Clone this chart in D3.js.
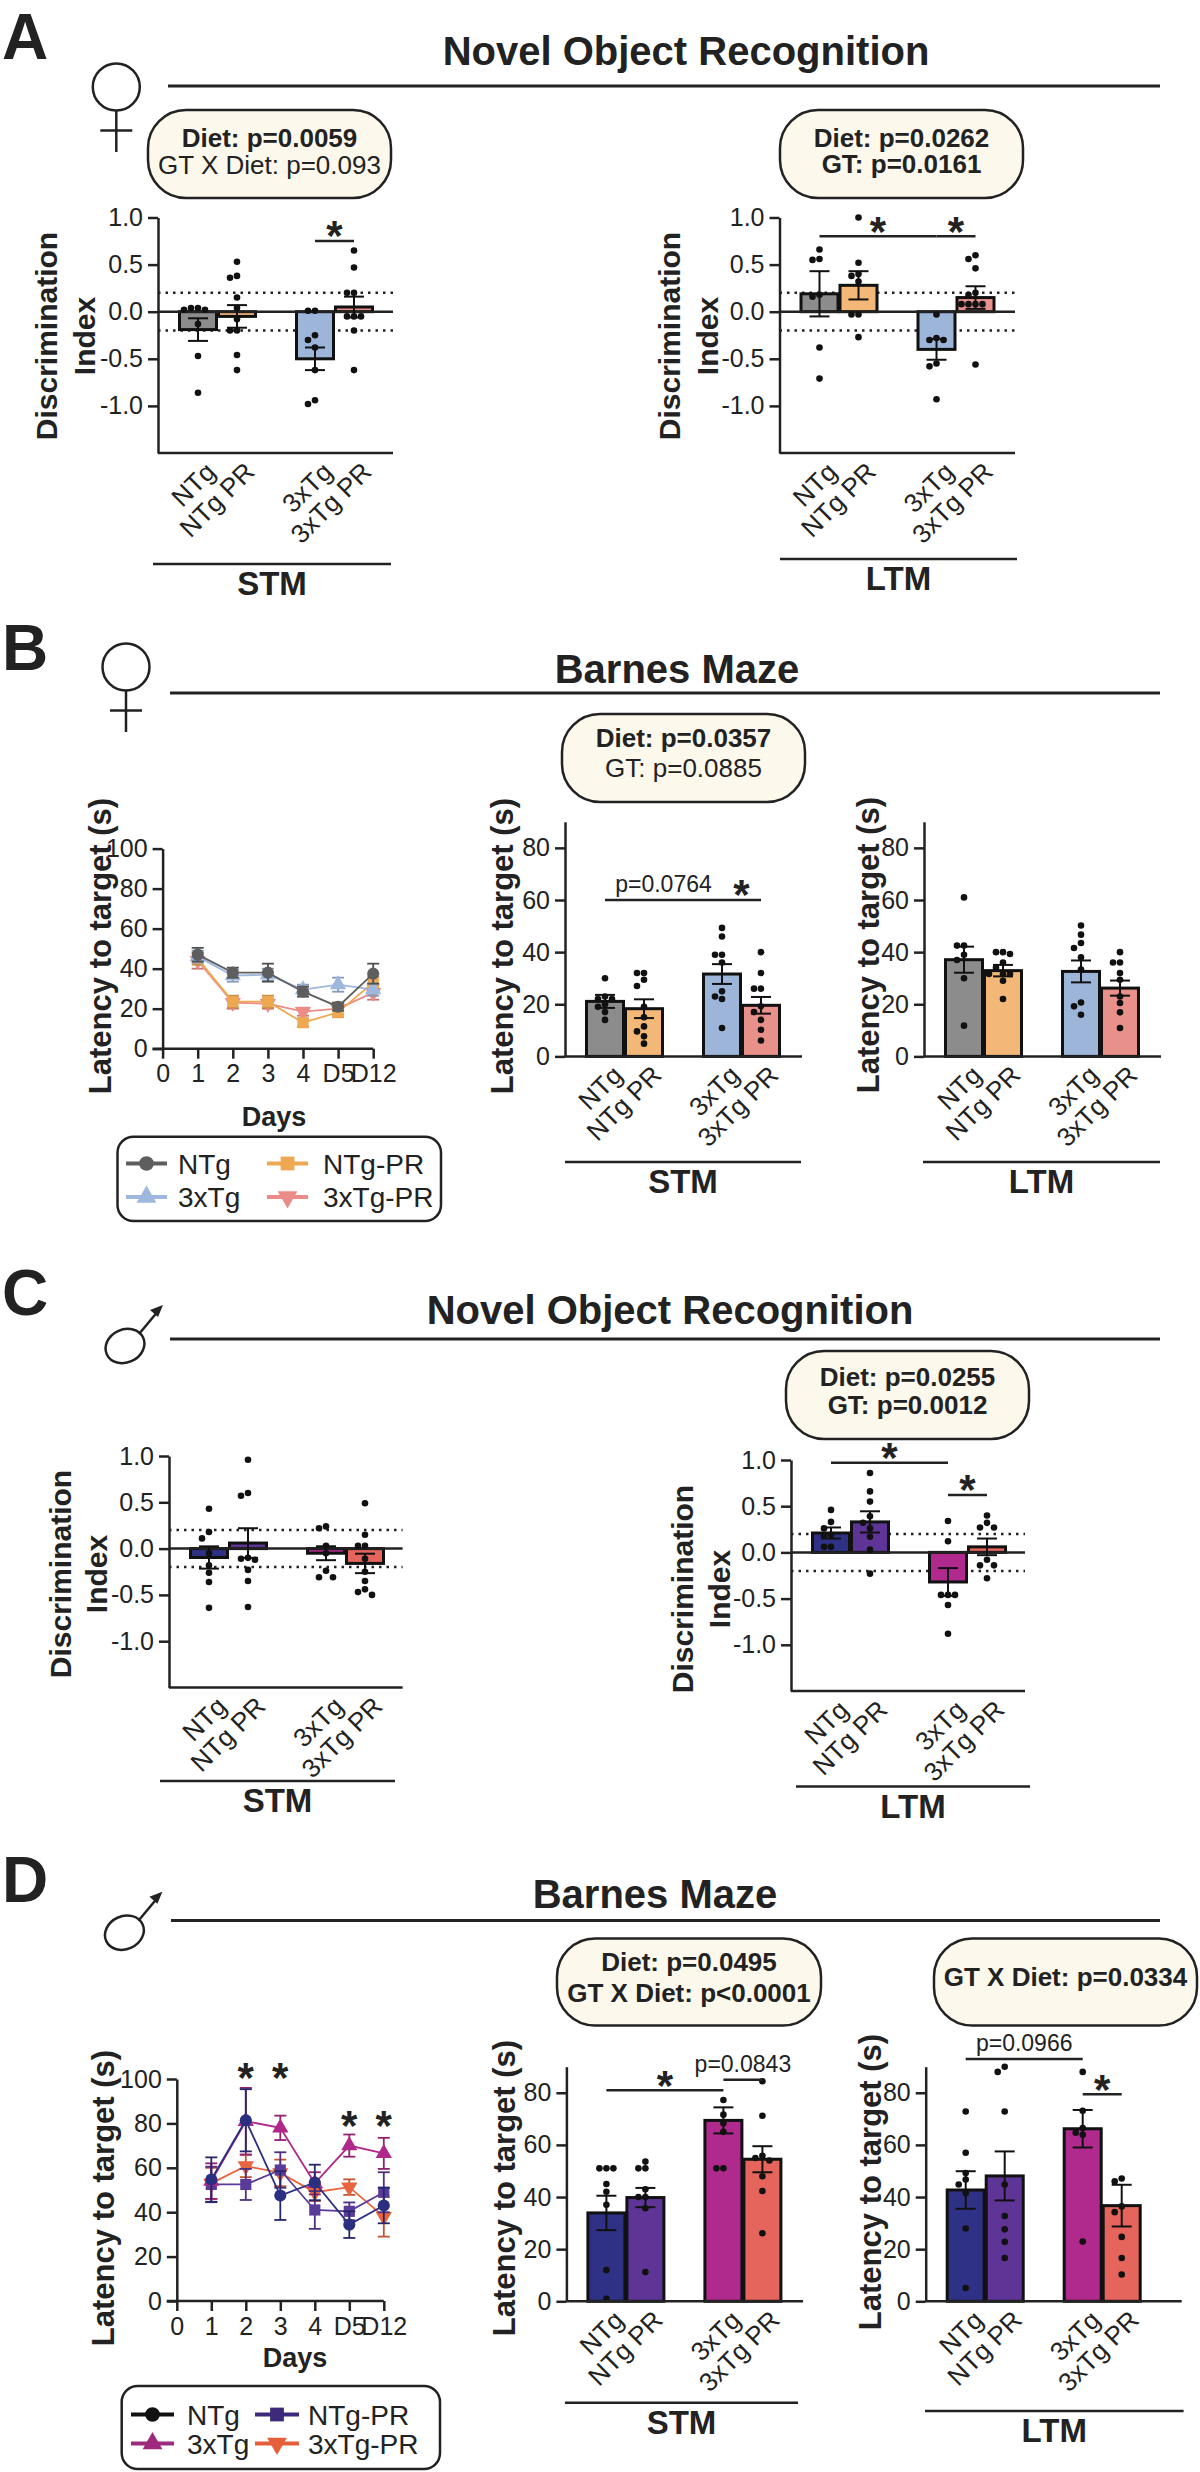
<!DOCTYPE html>
<html>
<head>
<meta charset="utf-8">
<title>Diet, novel object recognition and Barnes maze</title>
<script src="https://d3js.org/d3.v7.min.js"></script>
<style>
  body { margin: 0; background: #fff; }
  svg { display: block; font-family: "Liberation Sans", Arial, sans-serif; }
  .tick text { font-size: 25px; fill: #222; }
  .xlab .tick text { font-size: 26px; }
  .tick line { stroke: #222; stroke-width: 2.5px; }
  .domain { stroke: #222; stroke-width: 2.5px; }
</style>
</head>
<body>
<svg width="1200" height="2472"></svg>
<script>
// ---------- data ----------
const groups = ["NTg", "NTg PR", "3xTg", "3xTg PR"];
const days = ["0", "1", "2", "3", "4", "D5", "D12"];
const series = ["NTg", "3xTg", "NTg-PR", "3xTg-PR"];

// A - female, novel object recognition (discrimination index)
const aStmMean = [-0.19, -0.05, -0.5, 0.05];
const aStmSem = [0.12, 0.12, 0.12, 0.11];
const aStmPts = [
  [0.04, 0.02, 0.02, 0.04, -0.13, -0.47, -0.86],
  [0.53, 0.38, 0.36, 0.15, 0.04, -0.08, -0.2, -0.2, -0.46, -0.62],
  [0.01, 0.01, -0.25, -0.3, -0.38, -0.62, -0.94, -0.98],
  [0.65, 0.47, 0.2, 0.2, -0.05, -0.05, -0.05, -0.2, -0.62]
];
const aStmSig = [["3xTg", "3xTg PR", 0.75, "*"]];

const aLtmMean = [0.19, 0.28, -0.4, 0.15];
const aLtmSem = [0.24, 0.15, 0.11, 0.12];
const aLtmPts = [
  [0.66, 0.56, 0.55, 0.18, 0.16, -0.38, -0.71],
  [1.0, 0.52, 0.4, 0.38, 0.32, -0.03, -0.03, -0.27],
  [-0.03, -0.28, -0.3, -0.3, -0.55, -0.58, -0.93],
  [0.6, 0.56, 0.46, 0.2, 0.18, 0.08, 0.08, 0.08, 0.08, -0.56]
];
const aLtmSig = [["NTg", "3xTg", 0.8, "*"], ["3xTg", "3xTg PR", 0.8, "*"]];

// B - female, Barnes maze (latency, s)
const bDaysMean = [
  [47, 38, 38, 28.5, 21, 37.5],
  [46, 36.5, 37, 29.5, 32, 29.5],
  [45, 23.5, 23.5, 13, 18.2, 33],
  [44, 23, 22.5, 18.5, 20, 28]
];
const bDaysSem = [
  [3.4, 2.5, 4.5, 2.5, 2, 5],
  [3, 3, 3, 2.5, 3.5, 3],
  [3, 3, 3, 2, 2.5, 3],
  [4, 3, 2.5, 2, 3, 3.5]
];
const bStmMean = [21.1, 18.3, 31.6, 19.6];
const bStmSem = [2.5, 3.6, 3.8, 3.2];
const bStmPts = [
  [30, 23, 22, 22, 20, 19, 17, 14],
  [32, 32, 29.4, 27, 19, 15, 11.5, 9.6, 7.7, 4.9],
  [49.3, 46, 39, 39, 36, 25, 23, 22, 10.9],
  [40, 32, 26, 26, 19.2, 17, 14, 10.2, 6.1]
];
const bStmSig = [["NTg", "3xTg", 60, "p=0.0764"], ["3xTg", "3xTg PR", 60, "*"]];

const bLtmMean = [37.1, 32.9, 32.6, 26.2];
const bLtmSem = [5, 2.2, 4.2, 2.9];
const bLtmPts = [
  [61, 42.5, 42.5, 39, 37, 30, 11.8],
  [40, 40, 39.3, 36, 34, 31.6, 31.6, 31.6, 29, 22],
  [50.2, 46.7, 43.5, 41.6, 38, 33.3, 20.7, 19.2, 16],
  [40, 36, 36, 32, 29.4, 23, 20.5, 16.9, 10.9]
];

// C - male, novel object recognition
const cStmMean = [-0.096, 0.06, -0.05, -0.16];
const cStmSem = [0.12, 0.16, 0.075, 0.105];
const cStmPts = [
  [0.43, 0.18, 0.11, -0.05, -0.18, -0.26, -0.36, -0.64],
  [0.96, 0.6, 0.57, -0.1, -0.11, -0.12, -0.23, -0.35, -0.63],
  [0.24, 0.22, 0.03, -0.05, -0.24, -0.31, -0.31],
  [0.49, 0.15, 0.03, 0.03, -0.11, -0.25, -0.35, -0.44, -0.47, -0.5]
];

const cLtmMean = [0.21, 0.33, -0.32, 0.06];
const cLtmSem = [0.06, 0.115, 0.15, 0.09];
const cLtmPts = [
  [0.46, 0.33, 0.26, 0.19, 0.18, 0.06, 0.06],
  [0.86, 0.66, 0.55, 0.39, 0.32, 0.26, 0.17, 0.03, -0.23],
  [0.34, 0.12, -0.46, -0.46, -0.46, -0.57, -0.88],
  [0.4, 0.32, 0.27, 0.27, -0.08, -0.14, -0.14, -0.28]
];
const cLtmSig = [["NTg", "3xTg", 0.97, "*"], ["3xTg", "3xTg PR", 0.62, "*"]];

// D - male, Barnes maze
const dDaysMean = [
  [54.7, 81.4, 47.5, 53.4, 34.4, 43],
  [54, 81, 78, 53, 70, 66.5],
  [52.5, 52.5, 59, 41, 40.4, 49],
  [53, 60.8, 57.7, 49, 51.3, 38]
];
const dDaysSem = [
  [10, 14, 11, 8, 6, 8],
  [8, 15, 5.5, 5, 5, 7],
  [8, 7, 8, 8.5, 4, 9],
  [7, 5, 6, 4, 3.5, 9]
];
const dDaysSig = [["2", 105], ["3", 105], ["D5", 83.5], ["D12", 83.5]];

const dStmMean = [33.9, 39.8, 69.4, 54.5];
const dStmSem = [6.6, 3.7, 5, 5];
const dStmPts = [
  [51, 51, 51, 45, 42, 37, 12, 1],
  [53.6, 51, 51, 43, 40, 40, 35.7, 11.2],
  [77.2, 71.6, 68.3, 65, 51, 51],
  [84.4, 71.2, 55.8, 55, 54, 48, 42.3, 26.1]
];
const dStmSig = [["NTg", "3xTg", 81, "*"], ["3xTg", "3xTg PR", 85, "p=0.0843"]];

const dLtmMean = [42.7, 48.1, 66.2, 36.7];
const dLtmSem = [7.2, 9.4, 7.2, 8];
const dLtmPts = [
  [72.8, 57, 49.2, 46.7, 44.8, 41.5, 27.9, 5.1],
  [90, 88, 72.8, 44.8, 32.7, 27.6, 22.8, 16.6],
  [88, 73.1, 66.5, 64.7, 63.9, 22.9],
  [47.1, 46, 36.4, 34.2, 24.7, 16.6, 10.3]
];
const dLtmSig = [["NTg", "3xTg", 93, "p=0.0966"], ["3xTg", "3xTg PR", 79.4, "*"]];

// ---------- styling ----------
const femBar = ["#8c8c8c", "#f3b878", "#9db5d9", "#e8918b"];
const maleBar = ["#2e3185", "#5e3597", "#b02a8e", "#e5655c"];
const femLine = ["#5e5e5e", "#9db8dc", "#efa852", "#ec8c88"];
const maleLine = ["#2b2f7f", "#b0288a", "#5b3b9a", "#e8653e"];
const maleLegend = ["#111111", "#9e2a7e", "#3d2a7a", "#e5603a"];
const shapes = [d3.symbolCircle, d3.symbolTriangle, d3.symbolSquare, d3.symbolTriangle];
const INK = "#222";

const svg = d3.select("svg");

function star(g, x, cy, fs) {
  g.append("text").attr("x", x).attr("y", cy + 0.58 * fs)
    .attr("text-anchor", "middle").attr("font-weight", "bold")
    .attr("font-size", fs).attr("fill", INK).text("*");
}

function yLabel(lab) {
  lab.lines.forEach((t, i) => {
    svg.append("text")
      .attr("transform", `translate(${lab.x[i]},${lab.cy}) rotate(-90)`)
      .attr("text-anchor", "middle").attr("font-weight", "bold")
      .attr("font-size", lab.size || 30).attr("fill", INK).text(t);
  });
}

function section(s) {
  svg.append("line").attr("x1", s.x1).attr("x2", s.x2).attr("y1", s.y).attr("y2", s.y)
    .attr("stroke", INK).attr("stroke-width", 2.5);
  svg.append("text").attr("x", (s.x1 + s.x2) / 2).attr("y", s.y + 31)
    .attr("text-anchor", "middle").attr("font-weight", "bold")
    .attr("font-size", 33).attr("fill", INK).text(s.text);
}

function pill(p) {
  svg.append("rect").attr("x", p.x).attr("y", p.y).attr("width", p.w).attr("height", p.h)
    .attr("rx", 38).attr("fill", "#fdf8ec").attr("stroke", INK).attr("stroke-width", 2.5);
  p.lines.forEach((l, i) => {
    svg.append("text").attr("x", p.x + p.w / 2).attr("y", p.base[i])
      .attr("text-anchor", "middle").attr("font-size", 26)
      .attr("font-weight", l[1] ? "bold" : "normal").attr("fill", INK).text(l[0]);
  });
}

function sexSymbol(s) {
  const g = svg.append("g").attr("fill", "none").attr("stroke", INK).attr("stroke-width", 2.5);
  if (s.female) {
    g.append("circle").attr("cx", s.x).attr("cy", s.y).attr("r", 23.5);
    g.append("line").attr("x1", s.x).attr("x2", s.x).attr("y1", s.y + 23.5).attr("y2", s.y + 65);
    g.append("line").attr("x1", s.x - 16).attr("x2", s.x + 16).attr("y1", s.y + 43.5).attr("y2", s.y + 43.5);
  } else {
    g.append("ellipse").attr("cx", s.x).attr("cy", s.y).attr("rx", 20).attr("ry", 16.5)
      .attr("transform", `rotate(-25,${s.x},${s.y})`);
    g.append("line").attr("x1", s.x + 14).attr("y1", s.y - 12).attr("x2", s.x + 34).attr("y2", s.y - 36);
    svg.append("path").attr("fill", INK)
      .attr("d", `M${s.x + 38},${s.y - 41} l-13,5 l8,7 z`);
  }
}

function header(h) {
  svg.append("text").attr("x", 2).attr("y", h.letterY).attr("font-size", 64)
    .attr("font-weight", "bold").attr("fill", INK).text(h.letter);
  svg.append("text").attr("x", h.titleX).attr("y", h.titleY).attr("text-anchor", "middle")
    .attr("font-size", 40).attr("font-weight", "bold").attr("fill", INK).text(h.title);
  svg.append("line").attr("x1", h.x1).attr("x2", 1160).attr("y1", h.lineY).attr("y2", h.lineY)
    .attr("stroke", INK).attr("stroke-width", 3);
  sexSymbol(h.sym);
}

function swarm(vals, y, cx) {
  const placed = [];
  vals.map(v => ({ v, py: y(v) })).sort((a, b) => a.py - b.py).forEach(p => {
    const offs = [0, -7, 7, -14, 14, -21, 21];
    p.px = cx;
    for (const o of offs) {
      if (placed.every(q => Math.hypot(q.px - (cx + o), q.py - p.py) >= 6.5)) { p.px = cx + o; break; }
    }
    placed.push(p);
  });
  return placed;
}

function barChart(c) {
  const g = svg.append("g");
  const nor = c.domain[0] < 0;
  const y = d3.scaleLinear().domain(c.domain).range([c.y0, c.y1]);
  const x = d3.scalePoint().domain(["NTg", "NTg PR", "gap", "3xTg", "3xTg PR"])
    .range([c.ax + 40, c.ax + 196]);
  const bw = 37;
  const base = y(0);

  if (nor) {
    [0.2, -0.2].forEach(v => g.append("line").attr("x1", c.ax).attr("x2", c.end)
      .attr("y1", y(v)).attr("y2", y(v)).attr("stroke", INK).attr("stroke-width", 2.5)
      .attr("stroke-dasharray", "2.5,5"));
  }

  g.selectAll(".bar").data(groups).join("rect").attr("class", "bar")
    .attr("x", d => x(d) - bw / 2).attr("width", bw)
    .attr("y", (d, i) => Math.min(y(c.mean[i]), base))
    .attr("height", (d, i) => Math.abs(y(c.mean[i]) - base))
    .attr("fill", (d, i) => c.colors[i]).attr("stroke", "#111").attr("stroke-width", 3);

  if (nor) {
    g.append("line").attr("x1", c.ax).attr("x2", c.end).attr("y1", y(0)).attr("y2", y(0))
      .attr("stroke", INK).attr("stroke-width", 2.5);
  }

  groups.forEach((grp, i) => {
    const cx = x(grp), m = c.mean[i], s = c.sem[i];
    const eb = g.append("g").attr("stroke", "#111").attr("stroke-width", 2);
    eb.append("line").attr("x1", cx).attr("x2", cx).attr("y1", y(m - s)).attr("y2", y(m + s));
    [m - s, m + s].forEach(v => eb.append("line").attr("x1", cx - 10).attr("x2", cx + 10)
      .attr("y1", y(v)).attr("y2", y(v)));
    g.selectAll(null).data(swarm(c.pts[i], y, cx)).join("circle")
      .attr("cx", d => d.px).attr("cy", d => d.py).attr("r", 3.3).attr("fill", "#111");
  });

  const yAxis = d3.axisLeft(y).tickValues(c.ticks).tickSize(10).tickSizeOuter(0).tickPadding(5)
    .tickFormat(nor ? (d => d.toFixed(1)) : (d => d));
  g.append("g").attr("transform", `translate(${c.ax},0)`).call(yAxis).attr("font-family", null);

  const axY = nor ? y(c.domain[0]) : y(0);
  g.append("line").attr("x1", c.ax).attr("x2", c.end).attr("y1", axY).attr("y2", axY)
    .attr("stroke", INK).attr("stroke-width", 2.5);

  const xAxis = d3.axisBottom(x).tickValues(groups).tickSize(0);
  const xa = g.append("g").attr("class", "xlab").attr("transform", `translate(0,${axY})`)
    .call(xAxis).attr("font-family", null);
  xa.select(".domain").remove();
  xa.selectAll("text")
    .attr("transform", "translate(12,14) rotate(-45)")
    .attr("text-anchor", "end").attr("x", 0).attr("y", 0).attr("dy", "0.35em");

  (c.sig || []).forEach(b => {
    const x1 = x(b[0]), x2 = x(b[1]), yy = y(b[2]);
    g.append("line").attr("x1", x1).attr("x2", x2).attr("y1", yy).attr("y2", yy)
      .attr("stroke", INK).attr("stroke-width", 2.5);
    if (b[3] === "*") star(g, (x1 + x2) / 2, yy - 15, 42);
    else g.append("text").attr("x", (x1 + x2) / 2).attr("y", yy - 8).attr("text-anchor", "middle")
      .attr("font-size", 23).attr("fill", INK).text(b[3]);
  });

  yLabel(c.ylab);
  section(c.section);
}

function lineChart(c) {
  const g = svg.append("g");
  const x = d3.scalePoint().domain(days).range([c.ax, c.ax + 6 * c.step]);
  const y = d3.scaleLinear().domain([0, 100]).range([c.y0, c.y1]);
  const order = [3, 2, 1, 0];
  order.forEach(k => {
    const pts = c.mean[k].map((v, i) => ({ d: days[i + 1], v, s: c.sem[k][i] }));
    const col = c.colors[k];
    const ebc = d3.color(col).darker(0.5);
    const eb = g.append("g").attr("stroke", ebc).attr("stroke-width", 1.8);
    pts.forEach(p => {
      eb.append("line").attr("x1", x(p.d)).attr("x2", x(p.d)).attr("y1", y(p.v - p.s)).attr("y2", y(p.v + p.s));
      [p.v - p.s, p.v + p.s].forEach(v => eb.append("line").attr("x1", x(p.d) - 6).attr("x2", x(p.d) + 6)
        .attr("y1", y(v)).attr("y2", y(v)));
    });
    g.append("path").datum(pts).attr("fill", "none").attr("stroke", col).attr("stroke-width", 1.8)
      .attr("d", d3.line().x(p => x(p.d)).y(p => y(p.v)));
    const sym = d3.symbol().type(shapes[k]).size(k === 2 ? 125 : 115);
    g.selectAll(null).data(pts).join("path")
      .attr("transform", p => `translate(${x(p.d)},${y(p.v)})${k === 3 ? " rotate(180)" : ""}`)
      .attr("d", sym).attr("fill", col);
  });

  g.append("g").attr("transform", `translate(${c.ax},0)`)
    .call(d3.axisLeft(y).tickValues([0, 20, 40, 60, 80, 100]).tickSize(10).tickSizeOuter(0).tickPadding(5))
    .attr("font-family", null);
  const xa = g.append("g").attr("transform", `translate(0,${c.y0})`)
    .call(d3.axisBottom(x).tickSize(10).tickSizeOuter(0).tickPadding(6))
    .attr("font-family", null);
  xa.select(".domain").attr("d", `M${c.ax - 10},0H${c.ax + 6 * c.step}`);

  (c.sig || []).forEach(s => star(g, x(s[0]), y(s[1]), 42));

  svg.append("text").attr("x", c.daysX).attr("y", c.daysY).attr("text-anchor", "middle")
    .attr("font-weight", "bold").attr("font-size", 27).attr("fill", INK).text("Days");
  yLabel(c.ylab);
}

function legend(l) {
  svg.append("rect").attr("x", l.x).attr("y", l.y).attr("width", l.w).attr("height", l.h)
    .attr("rx", 16).attr("fill", "#fff").attr("stroke", INK).attr("stroke-width", 2.5);
  // row 1: NTg, NTg-PR ; row 2: 3xTg, 3xTg-PR
  const cells = [[0, 0, 0], [2, 0, 1], [1, 1, 0], [3, 1, 1]];
  cells.forEach(([k, r, col]) => {
    const yy = l.rows[r], [a, b] = l.lines[col], color = l.colors[k];
    svg.append("line").attr("x1", a).attr("x2", b).attr("y1", yy).attr("y2", yy)
      .attr("stroke", color).attr("stroke-width", 4);
    svg.append("path").attr("transform", `translate(${(a + b) / 2},${yy})${k === 3 ? " rotate(180)" : ""}`)
      .attr("d", d3.symbol().type(shapes[k]).size(k === 2 ? 190 : 170)).attr("fill", color);
    svg.append("text").attr("x", l.labX[col]).attr("y", yy + 10).attr("font-size", 28)
      .attr("fill", INK).text(series[k]);
  });
}

const latLab = "Latency to target (s)";

// ---------- A ----------
header({ letter: "A", letterY: 59, title: "Novel Object Recognition", titleX: 686, titleY: 64.5,
  x1: 168, lineY: 86, sym: { female: true, x: 116.3, y: 87 } });
pill({ x: 148, y: 110, w: 243, h: 88, base: [147, 174],
  lines: [["Diet: p=0.0059", true], ["GT X Diet: p=0.093", false]] });
pill({ x: 780, y: 110, w: 243, h: 88, base: [147, 173],
  lines: [["Diet: p=0.0262", true], ["GT: p=0.0161", true]] });
const norTicks = [-1, -0.5, 0, 0.5, 1];
barChart({ ax: 158, end: 393, y0: 453, y1: 217.5, domain: [-1.5, 1], ticks: norTicks,
  mean: aStmMean, sem: aStmSem, pts: aStmPts, sig: aStmSig, colors: femBar,
  ylab: { lines: ["Discrimination", "Index"], x: [57, 95], cy: 336 },
  section: { text: "STM", x1: 153, x2: 391, y: 564 } });
barChart({ ax: 779.5, end: 1015, y0: 453, y1: 217.5, domain: [-1.5, 1], ticks: norTicks,
  mean: aLtmMean, sem: aLtmSem, pts: aLtmPts, sig: aLtmSig, colors: femBar,
  ylab: { lines: ["Discrimination", "Index"], x: [680, 718], cy: 336 },
  section: { text: "LTM", x1: 780, x2: 1017, y: 559 } });

// ---------- B ----------
header({ letter: "B", letterY: 670, title: "Barnes Maze", titleX: 677, titleY: 683,
  x1: 170, lineY: 693, sym: { female: true, x: 126, y: 667 } });
pill({ x: 562, y: 714, w: 243, h: 88, base: [747, 777],
  lines: [["Diet: p=0.0357", true], ["GT: p=0.0885", false]] });
lineChart({ ax: 162.6, step: 35.1, y0: 1048.7, y1: 848.6, mean: bDaysMean, sem: bDaysSem,
  colors: femLine, daysX: 274, daysY: 1126,
  ylab: { lines: [latLab], x: [111], cy: 946, size: 31 } });
legend({ x: 117.5, y: 1136.7, w: 323.5, h: 84.3, rows: [1163.5, 1197],
  lines: [[126, 167], [267, 308]], labX: [178, 323], colors: femLine });
const latTicks = [0, 20, 40, 60, 80];
barChart({ ax: 565, end: 802, y0: 1056.4, y1: 821.8, domain: [0, 90], ticks: latTicks,
  mean: bStmMean, sem: bStmSem, pts: bStmPts, sig: bStmSig, colors: femBar,
  ylab: { lines: [latLab], x: [513], cy: 946, size: 31 },
  section: { text: "STM", x1: 565, x2: 801, y: 1162 } });
barChart({ ax: 924, end: 1161, y0: 1056.4, y1: 821.8, domain: [0, 90], ticks: latTicks,
  mean: bLtmMean, sem: bLtmSem, pts: bLtmPts, colors: femBar,
  ylab: { lines: [latLab], x: [879], cy: 945, size: 31 },
  section: { text: "LTM", x1: 923, x2: 1160, y: 1162 } });

// ---------- C ----------
header({ letter: "C", letterY: 1315, title: "Novel Object Recognition", titleX: 670, titleY: 1324,
  x1: 170, lineY: 1339, sym: { female: false, x: 125, y: 1346 } });
pill({ x: 786, y: 1351, w: 243, h: 88, base: [1386, 1414],
  lines: [["Diet: p=0.0255", true], ["GT: p=0.0012", true]] });
barChart({ ax: 169, end: 402.6, y0: 1687.5, y1: 1456, domain: [-1.5, 1], ticks: norTicks,
  mean: cStmMean, sem: cStmSem, pts: cStmPts, colors: maleBar,
  ylab: { lines: ["Discrimination", "Index"], x: [71, 106.5], cy: 1574 },
  section: { text: "STM", x1: 160, x2: 395, y: 1781 } });
barChart({ ax: 791, end: 1025, y0: 1691, y1: 1460, domain: [-1.5, 1], ticks: norTicks,
  mean: cLtmMean, sem: cLtmSem, pts: cLtmPts, sig: cLtmSig, colors: maleBar,
  ylab: { lines: ["Discrimination", "Index"], x: [692.6, 730], cy: 1589 },
  section: { text: "LTM", x1: 796, x2: 1030, y: 1786.5 } });

// ---------- D ----------
header({ letter: "D", letterY: 1902, title: "Barnes Maze", titleX: 655, titleY: 1908,
  x1: 171, lineY: 1920.5, sym: { female: false, x: 124.4, y: 1932.7 } });
pill({ x: 557, y: 1938.5, w: 264, h: 87, base: [1971, 2002],
  lines: [["Diet: p=0.0495", true], ["GT X Diet: p<0.0001", true]] });
pill({ x: 934, y: 1938.5, w: 263, h: 87, base: [1986],
  lines: [["GT X Diet: p=0.0334", true]] });
lineChart({ ax: 176.8, step: 34.5, y0: 2301, y1: 2079, mean: dDaysMean, sem: dDaysSem,
  colors: maleLine, sig: dDaysSig, daysX: 295, daysY: 2367,
  ylab: { lines: [latLab], x: [114], cy: 2198, size: 31 } });
legend({ x: 121.7, y: 2386, w: 318.3, h: 83, rows: [2414.5, 2443.5],
  lines: [[131, 174], [255, 299]], labX: [187, 308], colors: maleLegend });
barChart({ ax: 566.4, end: 803, y0: 2301.3, y1: 2066.7, domain: [0, 90], ticks: latTicks,
  mean: dStmMean, sem: dStmSem, pts: dStmPts, sig: dStmSig, colors: maleBar,
  ylab: { lines: [latLab], x: [515], cy: 2188, size: 31 },
  section: { text: "STM", x1: 565, x2: 798, y: 2402.7 } });
barChart({ ax: 925.7, end: 1181.7, y0: 2301.3, y1: 2066.7, domain: [0, 90], ticks: latTicks,
  mean: dLtmMean, sem: dLtmSem, pts: dLtmPts, sig: dLtmSig, colors: maleBar,
  ylab: { lines: [latLab], x: [881], cy: 2182, size: 31 },
  section: { text: "LTM", x1: 925, x2: 1183.6, y: 2411 } });
</script>
</body>
</html>
